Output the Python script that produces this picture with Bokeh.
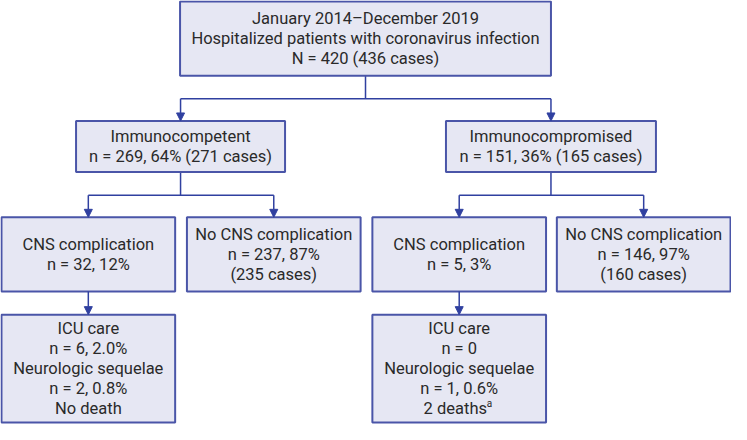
from bokeh.plotting import figure
from bokeh.models import Range1d, Arrow, NormalHead
from bokeh.core.properties import value
from bokeh.embed import file_html
from bokeh.resources import INLINE

# ---- data ----
box_names = ["top", "imm_comp", "imm_compr", "cns_l", "nocns_l", "cns_r", "nocns_r", "icu_l", "icu_r"]
box_left = [184, 78, 455, 2, 191, 380, 568, 2, 380]
box_right = [562, 291, 669, 179, 368, 557, 745, 179, 557]
box_top = [1, 125, 125, 225, 225, 225, 225, 326, 326]
box_bottom = [78, 178, 178, 302, 302, 302, 302, 438, 438]
box_texts = [
    ["January 2014\u2013December 2019", "Hospitalized patients with coronavirus infection", "N = 420 (436 cases)"],
    ["Immunocompetent", "n = 269, 64% (271 cases)"],
    ["Immunocompromised", "n = 151, 36% (165 cases)"],
    ["CNS complication", "n = 32, 12%"],
    ["No CNS complication", "n = 237, 87%", "(235 cases)"],
    ["CNS complication", "n = 5, 3%"],
    ["No CNS complication", "n = 146, 97%", "(160 cases)"],
    ["ICU care", "n = 6, 2.0%", "Neurologic sequelae", "n = 2, 0.8%", "No death"],
    ["ICU care", "n = 0", "Neurologic sequelae", "n = 1, 0.6%", "2 deaths"],
]
footnote_mark = "a"

# connectors: (parent, [children], y of the horizontal bus)
links = [("top", ["imm_comp", "imm_compr"], 102),
         ("imm_comp", ["cns_l", "nocns_l"], 202),
         ("imm_compr", ["cns_r", "nocns_r"], 202),
         ("cns_l", ["icu_l"], None),
         ("cns_r", ["icu_r"], None)]

LINE = "#3040a0"
FILL = "#e6e7f3"
BORDER = "#4a55a8"
TXT = "#2a2a2a"
FONT = "Roboto"
FS = "16.5px"
LH = 20.8

p = figure(width=731, height=424, output_backend="svg", toolbar_location=None,
           x_range=Range1d(1, 746), y_range=Range1d(440, 0), min_border=0)
p.axis.visible = False
p.grid.visible = False
p.outline_line_color = None
p.background_fill_color = "white"
p.border_fill_color = "white"

idx = {n: i for i, n in enumerate(box_names)}
cx = lambda n: (box_left[idx[n]] + box_right[idx[n]]) / 2


def arrow(x, y0, y1):
    p.add_layout(Arrow(end=NormalHead(size=8, fill_color=LINE, line_color=LINE, line_width=1),
                       x_start=x, y_start=y0, x_end=x, y_end=y1,
                       line_color=LINE, line_width=1.5))


for parent, kids, bus in links:
    px = cx(parent)
    pb = box_bottom[idx[parent]]
    if bus is None:
        arrow(px, pb, box_top[idx[kids[0]]])
        continue
    p.segment(x0=[px], y0=[pb], x1=[px], y1=[bus], line_color=LINE, line_width=1.5)
    xs = [cx(k) for k in kids]
    p.segment(x0=[min(xs)], y0=[bus], x1=[max(xs)], y1=[bus], line_color=LINE, line_width=1.5)
    for k in kids:
        arrow(cx(k), bus, box_top[idx[k]])

# boxes
p.quad(left=box_left, right=box_right, top=box_top, bottom=box_bottom,
       fill_color=FILL, line_color=BORDER, line_width=2)

# texts
tx, ty, tt = [], [], []
for i, lines in enumerate(box_texts):
    c = (box_left[i] + box_right[i]) / 2
    m = (box_top[i] + box_bottom[i]) / 2
    n = len(lines)
    for j, s in enumerate(lines):
        x = c
        if box_names[i] == "icu_r" and j == n - 1:
            x = c - 4
        tx.append(x)
        ty.append(m + (j - (n - 1) / 2) * LH)
        tt.append(s)
p.text(x=tx, y=ty, text=tt, text_align="center", text_baseline="middle",
       text_font=value(FONT), text_font_size=FS, text_color=TXT)

# superscript footnote mark
ir = idx["icu_r"]
p.text(x=[(box_left[ir] + box_right[ir]) / 2 + 28], y=[(box_top[ir] + box_bottom[ir]) / 2 + 2 * LH - 5],
       text=[footnote_mark], text_align="left", text_baseline="middle",
       text_font=value(FONT), text_font_size="10px", text_color=TXT)

open("out.html", "w").write(file_html(p, INLINE))
